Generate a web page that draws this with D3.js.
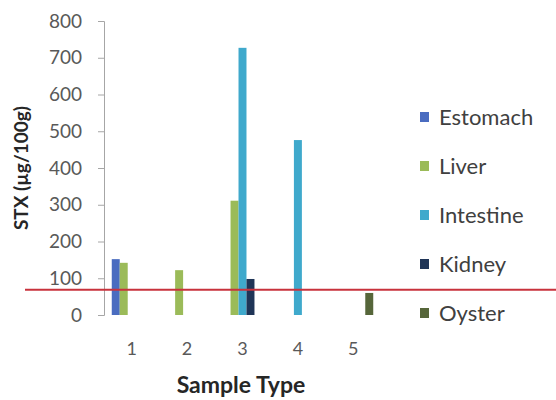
<!DOCTYPE html>
<html>
<head>
<meta charset="utf-8">
<script src="https://cdn.jsdelivr.net/npm/d3@7"></script>
<style>
  body { margin: 0; background: #fff; }
  text { font-family: Lato, "Open Sans", sans-serif; }
</style>
</head>
<body>
<svg id="chart" width="556" height="400"></svg>
<script>
let categories = ['1', '2', '3', '4', '5'];
let seriesNames = ['Estomach', 'Liver', 'Intestine', 'Kidney', 'Oyster'];
let estomach = [152, 0, 0, 0, 0];
let liver = [142, 122, 311, 0, 0];
let intestine = [0, 0, 727, 476, 0];
let kidney = [0, 0, 98, 0, 0];
let oyster = [0, 0, 0, 0, 60];
let yTicks = [0, 100, 200, 300, 400, 500, 600, 700, 800];
let limit = 69;

let colors = ['#4a6cc0', '#9bbb59', '#3fa9cc', '#1f3557', '#56663a'];
let allSeries = [estomach, liver, intestine, kidney, oyster];

let svg = d3.select('#chart');

let x = d3.scaleBand().domain(categories).range([104, 381]).paddingInner(0.28).paddingOuter(0.14);
let xSub = d3.scaleBand().domain(seriesNames).range([0, x.bandwidth()]);
let y = d3.scaleLinear().domain([0, 800]).range([315, 21]);

// y axis
let yAxis = svg.append('g')
    .attr('transform', 'translate(104,0)')
    .call(d3.axisLeft(y).tickValues(yTicks).tickSize(6).tickPadding(16));
yAxis.select('.domain').attr('stroke', '#a6a6a6');
yAxis.selectAll('.tick line').attr('stroke', '#a6a6a6');
yAxis.selectAll('.tick text')
    .attr('fill', '#595959')
    .style('font-size', '19px');

// x labels (no axis line)
svg.append('g').selectAll('text')
    .data(categories)
    .enter().append('text')
    .attr('x', d => x(d) + x.bandwidth() / 2)
    .attr('y', 355)
    .attr('text-anchor', 'middle')
    .attr('fill', '#595959')
    .style('font-size', '18px')
    .text(d => d);

// bars
seriesNames.forEach(function(name, s) {
  svg.append('g').selectAll('rect')
      .data(allSeries[s].map((v, i) => ({cat: categories[i], v: v})).filter(d => d.v > 0))
      .enter().append('rect')
      .attr('x', d => x(d.cat) + xSub(name))
      .attr('width', xSub.bandwidth())
      .attr('y', d => y(d.v))
      .attr('height', d => y(0) - y(d.v))
      .attr('fill', colors[s]);
});

// limit line
svg.append('line')
    .attr('x1', 25).attr('x2', 556)
    .attr('y1', y(limit)).attr('y2', y(limit))
    .attr('stroke', '#c8323c')
    .attr('stroke-width', 2);

// legend
let legend = svg.append('g').selectAll('g')
    .data(seriesNames)
    .enter().append('g')
    .attr('transform', (d, i) => 'translate(420,' + (117 + i * 49) + ')');
legend.append('rect')
    .attr('x', 0).attr('y', -5)
    .attr('width', 9).attr('height', 10)
    .attr('fill', (d, i) => colors[i]);
legend.append('text')
    .attr('x', 19).attr('y', 8)
    .attr('fill', '#404040')
    .style('font-size', '22px')
    .text(d => d);

// axis titles
svg.append('text')
    .attr('transform', 'translate(28,168) rotate(-90)')
    .attr('text-anchor', 'middle')
    .attr('font-weight', 'bold')
    .attr('fill', '#262626')
    .style('font-size', '19px')
    .text('STX (µg/100g)');

svg.append('text')
    .attr('x', 241).attr('y', 393)
    .attr('text-anchor', 'middle')
    .attr('font-weight', 'bold')
    .attr('fill', '#262626')
    .style('font-size', '23px')
    .text('Sample Type');
</script>
</body>
</html>
